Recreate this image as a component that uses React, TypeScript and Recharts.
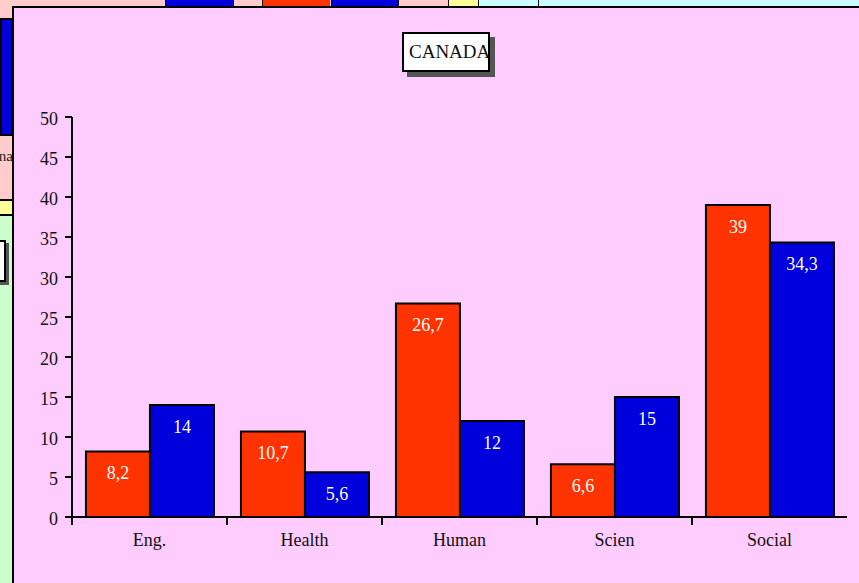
import React from 'react';
import { BarChart, Bar, XAxis, YAxis, LabelList } from 'recharts';

const categories = ['Eng.', 'Health', 'Human', 'Scien', 'Social'];
const seriesA = [8.2, 10.7, 26.7, 6.6, 39];
const seriesB = [14, 5.6, 12, 15, 34.3];
const yTicks = [0, 5, 10, 15, 20, 25, 30, 35, 40, 45, 50];
const title = 'CANADA';

const data = categories.map((c, i) => ({ name: c, a: seriesA[i], b: seriesB[i] }));

const FONT = '"Liberation Serif", "Times New Roman", serif';
const RED = '#ff3300';
const BLUE = '#0000dd';

const fmt = (v: any) => String(v).replace('.', ',');

const topBlocks: [number, number, string][] = [
  [0, 165, '#ffcccc'],
  [165, 233, BLUE],
  [233, 262, '#ffcccc'],
  [262, 330, RED],
  [331, 398, BLUE],
  [398, 448, '#ffcccc'],
  [448, 478, '#ffff99'],
  [478, 538, '#ccffff'],
  [538, 859, '#ccffff'],
];

const TICK_SIZE = 8;
const TICK_MARGIN = 8;

const CategoryTick = (props: any) => {
  const { x, y, payload } = props;
  const half = payload && typeof payload.offset === 'number' ? payload.offset : 0;
  const axisY = y - TICK_SIZE - TICK_MARGIN;
  return (
    <g>
      {half > 0 && (
        <line x1={x - half} x2={x - half} y1={axisY} y2={axisY + TICK_SIZE} stroke="#000" strokeWidth={2} />
      )}
      <text x={x} y={y} dy="0.71em" textAnchor="middle" fill="#111" fontSize={18} fontFamily={FONT}>
        {payload.value}
      </text>
    </g>
  );
};

export default function App() {
  return (
    <div style={{ position: 'absolute', left: 0, top: 0, width: 859, height: 583, overflow: 'hidden', background: '#ffcccc', fontFamily: FONT }}>
      {/* background fragments */}
      {topBlocks.map(([x0, x1, c], i) => (
        <div key={i} style={{ position: 'absolute', left: x0, top: -4, width: x1 - x0, height: 11, background: c, borderLeft: i > 0 ? '1px solid #000' : 'none', boxSizing: 'border-box' }} />
      ))}
      <div style={{ position: 'absolute', left: 0, top: 18, width: 13, height: 118, background: BLUE, border: '2px solid #000', boxSizing: 'border-box' }} />
      <div style={{ position: 'absolute', left: 0, top: 136, width: 13, height: 63, background: '#ffcccc', overflow: 'hidden' }}>
        <div style={{ position: 'absolute', right: 0, top: 12, fontSize: 15, color: '#222', whiteSpace: 'nowrap' }}>na</div>
      </div>
      <div style={{ position: 'absolute', left: 0, top: 199, width: 13, height: 17, background: '#ffff99', borderTop: '2px solid #000', borderBottom: '2px solid #000', boxSizing: 'border-box' }} />
      <div style={{ position: 'absolute', left: 0, top: 216, width: 13, height: 380, background: '#ccffcc' }} />
      <div style={{ position: 'absolute', left: -20, top: 240, width: 26, height: 42, background: '#fff', border: '2px solid #000', boxShadow: '3px 3px 0 #555', boxSizing: 'border-box' }} />

      {/* main panel */}
      <div style={{ position: 'absolute', left: 12, top: 6, width: 900, height: 600, background: '#ffccff', borderLeft: '2px solid #000', borderTop: '2px solid #000', boxSizing: 'border-box' }} />

      <div style={{ position: 'absolute', left: 0, top: 0 }}>
        <BarChart
          width={859}
          height={583}
          data={data}
          margin={{ top: 117, right: 12, bottom: 36, left: 12 }}
          barCategoryGap="9%"
          barGap={0}
        >
          <XAxis
            dataKey="name"
            height={30}
            interval={0}
            axisLine={{ stroke: '#000', strokeWidth: 2 }}
            tickLine={false}
            tickSize={TICK_SIZE}
            tickMargin={TICK_MARGIN}
            tick={<CategoryTick />}
          />
          <YAxis
            width={60}
            domain={[0, 50]}
            ticks={yTicks}
            interval={0}
            axisLine={{ stroke: '#000', strokeWidth: 2 }}
            tickLine={{ stroke: '#000', strokeWidth: 2 }}
            tickSize={7}
            tickMargin={7}
            tick={{ fill: '#111', fontSize: 18, fontFamily: FONT, dy: 2 }}
          />
          <Bar dataKey="a" fill={RED} stroke="#000" strokeWidth={2} isAnimationActive={false}>
            <LabelList dataKey="a" position="insideTop" offset={15} fill="#fff" fontSize={18} fontFamily={FONT} formatter={fmt} />
          </Bar>
          <Bar dataKey="b" fill={BLUE} stroke="#000" strokeWidth={2} isAnimationActive={false}>
            <LabelList dataKey="b" position="insideTop" offset={15} fill="#fff" fontSize={18} fontFamily={FONT} formatter={fmt} />
          </Bar>
        </BarChart>
      </div>

      {/* title box */}
      <div style={{ position: 'absolute', left: 402, top: 32, width: 88, height: 40, background: '#fff', border: '2px solid #000', boxShadow: '5px 5px 0 #555', boxSizing: 'border-box', display: 'flex', alignItems: 'center', justifyContent: 'flex-start', paddingLeft: 5, fontSize: 19, color: '#111', whiteSpace: 'nowrap' }}>
        {title}
      </div>
    </div>
  );
}
